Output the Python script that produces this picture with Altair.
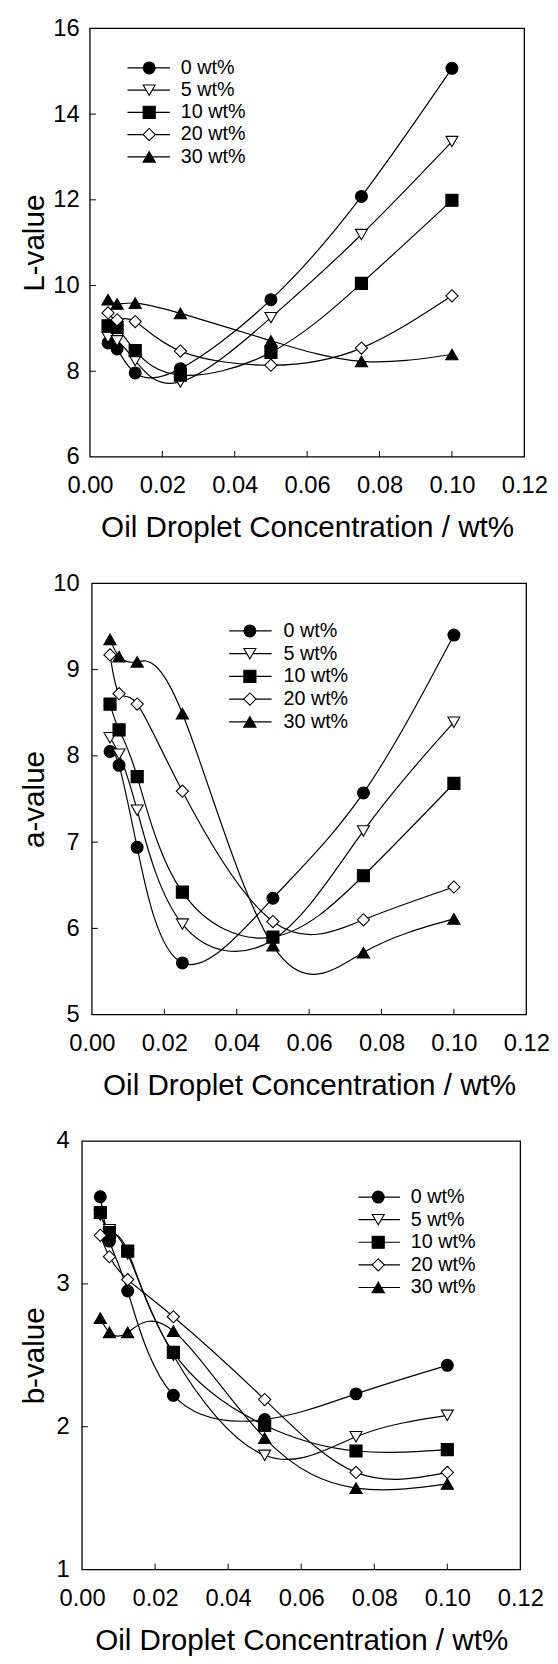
import altair as alt
import pandas as pd

FONT = "Liberation Sans"

x_vals = [0.005, 0.0075, 0.0125, 0.025, 0.05, 0.075, 0.10]
series = ["0 wt%", "5 wt%", "10 wt%", "20 wt%", "30 wt%"]

# L-value
L_0 = [8.66, 8.52, 7.96, 8.06, 9.67, 12.08, 15.07]
L_5 = [8.79, 8.71, 8.25, 7.75, 9.25, 11.19, 13.36]
L_10 = [9.06, 9.02, 8.48, 7.91, 8.44, 10.05, 11.99]
L_20 = [9.36, 9.20, 9.16, 8.47, 8.14, 8.54, 9.76]
L_30 = [9.67, 9.57, 9.59, 9.35, 8.71, 8.23, 8.39]

# a-value
a_0 = [8.05, 7.89, 6.94, 5.60, 6.35, 7.57, 9.40]
a_5 = [8.21, 8.02, 7.37, 6.05, 5.87, 7.13, 8.39]
a_10 = [8.60, 8.30, 7.76, 6.42, 5.90, 6.61, 7.68]
a_20 = [9.17, 8.72, 8.60, 7.59, 6.08, 6.10, 6.48]
a_30 = [9.35, 9.15, 9.09, 8.49, 5.80, 5.72, 6.11]

# b-value
b_0 = [3.61, 3.30, 2.95, 2.22, 2.05, 2.23, 2.43]
b_5 = [3.48, 3.38, 3.21, 2.50, 1.80, 1.93, 2.08]
b_10 = [3.50, 3.36, 3.23, 2.52, 2.01, 1.83, 1.84]
b_20 = [3.34, 3.19, 3.03, 2.77, 2.19, 1.68, 1.68]
b_30 = [2.76, 2.66, 2.66, 2.67, 1.92, 1.57, 1.60]

x_ticks = [0.0, 0.02, 0.04, 0.06, 0.08, 0.10, 0.12]
x_inner_ticks = [0.02, 0.04, 0.06, 0.08, 0.10]
L_ticks = [6, 8, 10, 12, 14, 16]
a_ticks = [5, 6, 7, 8, 9, 10]
b_ticks = [1, 2, 3, 4]

shape_scale = alt.Scale(domain=series,
                        range=["circle", "triangle-down", "square", "diamond", "triangle-up"])
fill_scale = alt.Scale(domain=series,
                       range=["black", "white", "black", "white", "black"])
size_scale = alt.Scale(domain=series, range=[145, 155, 125, 165, 155])

VIEW_W = 450


def make_panel(vals, ytitle, ydom, yticks, dx, pw, h, lab_pad, title_x, leg):
    rows = []
    for s, arr in zip(series, vals):
        for xv, yv in zip(x_vals, arr):
            rows.append({"series": s, "x": xv, "v": yv})
    df = pd.DataFrame(rows)

    xscale = alt.Scale(domain=[0, 0.12], range=[dx, dx + pw], nice=False, zero=False)
    yscale = alt.Scale(domain=ydom, nice=False, zero=False)
    xaxis = alt.Axis(values=x_ticks, format=".2f", ticks=False, domain=False, grid=False,
                     labelFontSize=24, labelPadding=36, labelBaseline="alphabetic",
                     labelFont=FONT, labelColor="black", labelFlush=False,
                     title="Oil Droplet Concentration / wt%", titleFontSize=30,
                     titleFont=FONT, titleFontWeight="normal", titleColor="black",
                     titleBaseline="alphabetic", titleY=81, titleX=dx + pw / 2,
                     titleAlign="center")
    yaxis = alt.Axis(values=yticks, format="d", ticks=False, domain=False, grid=False,
                     labelFontSize=24, labelPadding=lab_pad, labelFont=FONT,
                     labelColor="black", labelFlush=False,
                     title=ytitle, titleFontSize=30, titleFont=FONT, titleFontWeight="normal",
                     titleColor="black", titleAngle=270, titleX=title_x, titleY=h / 2,
                     titleAlign="center", titleBaseline="bottom")

    base = alt.Chart(df)
    lines = base.mark_line(interpolate="natural", color="black", strokeWidth=1.2).encode(
        x=alt.X("x:Q", scale=xscale, axis=xaxis),
        y=alt.Y("v:Q", scale=yscale, axis=yaxis),
        detail="series:N",
    )
    pts = base.mark_point(filled=True, stroke="black", strokeWidth=1.1, opacity=1).encode(
        x=alt.X("x:Q", scale=xscale, axis=xaxis),
        y=alt.Y("v:Q", scale=yscale, axis=yaxis),
        shape=alt.Shape("series:N", scale=shape_scale, legend=None),
        fill=alt.Fill("series:N", scale=fill_scale, legend=None),
        size=alt.Size("series:N", scale=size_scale, legend=None),
    )
    xt = alt.Chart(pd.DataFrame({"x": x_inner_ticks})).mark_rule(
        color="black", strokeWidth=1).encode(
        x=alt.X("x:Q", scale=xscale, axis=xaxis), y=alt.value(h), y2=alt.value(h - 6))
    inner_y = yticks[1:-1]
    yt = alt.Chart(pd.DataFrame({"v": inner_y})).mark_rule(
        color="black", strokeWidth=1).encode(
        y=alt.Y("v:Q", scale=yscale, axis=yaxis), x=alt.value(dx), x2=alt.value(dx + 6))
    frame = alt.Chart(pd.DataFrame({"f": [0]})).mark_rect(
        filled=False, stroke="black", strokeWidth=1.3).encode(
        x=alt.value(dx), x2=alt.value(dx + pw), y=alt.value(0), y2=alt.value(h))

    lx1, lx2, lxm, ltx, ly0, ldy = leg
    leg_df = pd.DataFrame({"series": series, "i": list(range(len(series)))})
    lb = alt.Chart(leg_df).transform_calculate(ly=f"{ly0} + datum.i * {ldy}")
    leg_lines = lb.mark_rule(color="black", strokeWidth=1.2).encode(
        x=alt.value(dx + lx1), x2=alt.value(dx + lx2), y=alt.Y("ly:Q", scale=None))
    leg_pts = lb.mark_point(filled=True, stroke="black", strokeWidth=1.1, opacity=1).encode(
        x=alt.value(dx + lxm), y=alt.Y("ly:Q", scale=None),
        shape=alt.Shape("series:N", scale=shape_scale, legend=None),
        fill=alt.Fill("series:N", scale=fill_scale, legend=None),
        size=alt.Size("series:N", scale=size_scale, legend=None),
    )
    leg_txt = lb.mark_text(align="left", baseline="middle", fontSize=20, font=FONT,
                           color="black").encode(
        x=alt.value(dx + ltx), y=alt.Y("ly:Q", scale=None), text="series:N")

    return alt.layer(lines, xt, yt, frame, pts, leg_lines, leg_pts, leg_txt).properties(
        width=VIEW_W, height=h)


p1 = make_panel([L_0, L_5, L_10, L_20, L_30], "L-value", [6, 16], L_ticks,
                8, 440, 434, 3, -33, (38, 81, 60, 92, 40, 22.5))
p2 = make_panel([a_0, a_5, a_10, a_20, a_30], "a-value", [5, 10], a_ticks,
                10, 440, 437, 3, -33, (139, 182, 160, 194, 48.3, 23))
p3 = make_panel([b_0, b_5, b_10, b_20, b_30], "b-value", [1, 4], b_ticks,
                0, 444, 434, 13, -33, (280, 322, 300, 333, 56.7, 22.9))

chart = alt.vconcat(p1, p2, p3, spacing=128, bounds="flush").properties(
    padding={"left": 12, "top": -2, "right": 0, "bottom": 0}
).configure(font=FONT).configure_view(strokeOpacity=0)

chart.save("out.html", embed_options={"renderer": "svg", "actions": False})
